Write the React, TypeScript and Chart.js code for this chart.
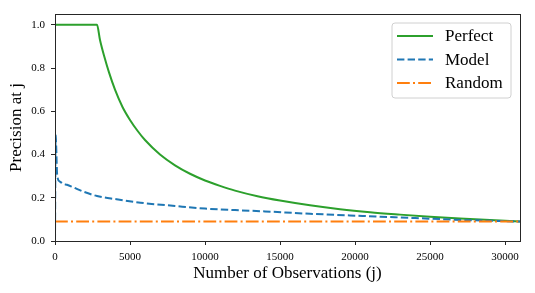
import React, { useEffect, useRef } from "react";
import { Chart, registerables } from "chart.js";

Chart.register(...registerables);

// ---- data ----
const perfectX = [0, 2800, 3000, 3300, 3600, 4000, 4500, 5000, 5500, 6000, 7000, 8000, 9000, 10000, 11000, 12000, 13500, 15000, 17000, 19000, 21000, 23000, 25000, 27000, 29000, 31000];
const perfectY = [1.0, 1.0, 0.93, 0.85, 0.78, 0.7, 0.62, 0.56, 0.51, 0.467, 0.4, 0.35, 0.311, 0.28, 0.255, 0.233, 0.207, 0.187, 0.165, 0.147, 0.133, 0.122, 0.112, 0.104, 0.097, 0.09];

const modelX = [0, 40, 150, 330, 550, 800, 1200, 1900, 2800, 4100, 5700, 8000, 10000, 12000, 14000, 17000, 20500, 24000, 27300, 31000];
const modelY = [0.0, 0.49, 0.3, 0.275, 0.264, 0.26, 0.249, 0.228, 0.208, 0.193, 0.177, 0.162, 0.15, 0.143, 0.137, 0.126, 0.116, 0.106, 0.097, 0.09];

const randomX = [0, 31000];
const randomY = [0.09, 0.09];

const xTicks = [0, 5000, 10000, 15000, 20000, 25000, 30000];
const yTicks = [0, 0.2, 0.4, 0.6, 0.8, 1.0];

const seriesNames = ["Perfect", "Model", "Random"];
const seriesColors = ["#2ca02c", "#1f77b4", "#ff7f0e"];
const seriesDashes = [[], [7.4, 3.2], [12.8, 3.2, 2, 3.2]];

const FONT = "'Liberation Serif', 'DejaVu Serif', serif";

const zip = (xs: number[], ys: number[]) => xs.map((x, i) => ({ x, y: ys[i] }));

const framePlugin = {
  id: "frameAndLegend",
  afterDraw(chart: any) {
    const { ctx, chartArea } = chart;
    ctx.save();
    // frame
    ctx.strokeStyle = "#262626";
    ctx.lineWidth = 1;
    ctx.setLineDash([]);
    ctx.strokeRect(
      Math.round(chartArea.left) + 0.5,
      Math.round(chartArea.top) + 0.5,
      Math.round(chartArea.right - chartArea.left),
      Math.round(chartArea.bottom - chartArea.top)
    );
    // legend
    const bw = 119;
    const bh = 75;
    const bx = chartArea.right - 9 - bw;
    const by = chartArea.top + 9;
    const r = 3;
    ctx.beginPath();
    ctx.moveTo(bx + r, by);
    ctx.lineTo(bx + bw - r, by);
    ctx.arcTo(bx + bw, by, bx + bw, by + r, r);
    ctx.lineTo(bx + bw, by + bh - r);
    ctx.arcTo(bx + bw, by + bh, bx + bw - r, by + bh, r);
    ctx.lineTo(bx + r, by + bh);
    ctx.arcTo(bx, by + bh, bx, by + bh - r, r);
    ctx.lineTo(bx, by + r);
    ctx.arcTo(bx, by, bx + r, by, r);
    ctx.closePath();
    ctx.fillStyle = "rgba(255,255,255,0.85)";
    ctx.fill();
    ctx.strokeStyle = "#d0d0d0";
    ctx.lineWidth = 1;
    ctx.stroke();
    const rows = [13, 36.5, 60];
    ctx.font = `17px ${FONT}`;
    ctx.textBaseline = "middle";
    ctx.textAlign = "left";
    seriesNames.forEach((name, i) => {
      const y = by + rows[i];
      ctx.beginPath();
      ctx.strokeStyle = seriesColors[i];
      ctx.lineWidth = 2;
      ctx.setLineDash(seriesDashes[i]);
      ctx.moveTo(bx + 5, y);
      ctx.lineTo(bx + 41, y);
      ctx.stroke();
      ctx.setLineDash([]);
      ctx.fillStyle = "#000";
      ctx.fillText(name, bx + 53, y + 1);
    });
    ctx.restore();
  },
};

export default function App() {
  const ref = useRef<HTMLCanvasElement | null>(null);

  useEffect(() => {
    if (!ref.current) return;
    const chart = new Chart(ref.current, {
      type: "line",
      data: {
        datasets: [
          {
            label: seriesNames[2],
            data: zip(randomX, randomY),
            borderColor: seriesColors[2],
            borderWidth: 2,
            borderDash: seriesDashes[2],
            pointRadius: 0,
            fill: false,
          },
          {
            label: seriesNames[1],
            data: zip(modelX, modelY),
            borderColor: seriesColors[1],
            borderWidth: 2,
            borderDash: seriesDashes[1],
            pointRadius: 0,
            cubicInterpolationMode: "monotone",
            fill: false,
          },
          {
            label: seriesNames[0],
            data: zip(perfectX, perfectY),
            borderColor: seriesColors[0],
            borderWidth: 2,
            pointRadius: 0,
            cubicInterpolationMode: "monotone",
            fill: false,
          },
        ],
      },
      options: {
        animation: false,
        responsive: false,
        maintainAspectRatio: false,
        layout: { padding: { top: 14, right: 15, left: 0, bottom: 0 } },
        plugins: { legend: { display: false }, tooltip: { enabled: false } },
        scales: {
          x: {
            type: "linear",
            min: 0,
            max: 31000,
            afterBuildTicks: (s: any) => {
              s.ticks = xTicks.map((v) => ({ value: v }));
            },
            afterFit: (s: any) => {
              s.height = 52;
            },
            ticks: {
              font: { family: FONT, size: 11 },
              color: "#000",
              padding: 6,
              maxRotation: 0,
              autoSkip: false,
              callback: (v: any) => String(v),
            },
            grid: { drawOnChartArea: false, tickLength: 4, tickColor: "#262626", tickWidth: 1 },
            border: { display: false },
            title: {
              display: true,
              text: "Number of Observations (j)",
              font: { family: FONT, size: 17 },
              color: "#000",
              padding: { top: 0, bottom: 9 },
            },
          },
          y: {
            type: "linear",
            min: 0,
            max: 1.05,
            afterBuildTicks: (s: any) => {
              s.ticks = yTicks.map((v) => ({ value: v }));
            },
            afterFit: (s: any) => {
              s.width = 55;
            },
            ticks: {
              font: { family: FONT, size: 11 },
              color: "#000",
              padding: 6,
              autoSkip: false,
              callback: (v: any) => Number(v).toFixed(1),
            },
            grid: { drawOnChartArea: false, tickLength: 4, tickColor: "#262626", tickWidth: 1 },
            border: { display: false },
            title: {
              display: true,
              text: "Precision at j",
              font: { family: FONT, size: 17 },
              color: "#000",
              padding: { top: 6, bottom: 0 },
            },
          },
        },
      },
      plugins: [framePlugin],
    });
    return () => chart.destroy();
  }, []);

  return (
    <div style={{ position: "fixed", left: 0, top: 0, width: 535, height: 293, background: "#fff" }}>
      <canvas ref={ref} width={535} height={293} style={{ width: 535, height: 293, display: "block" }} />
    </div>
  );
}
